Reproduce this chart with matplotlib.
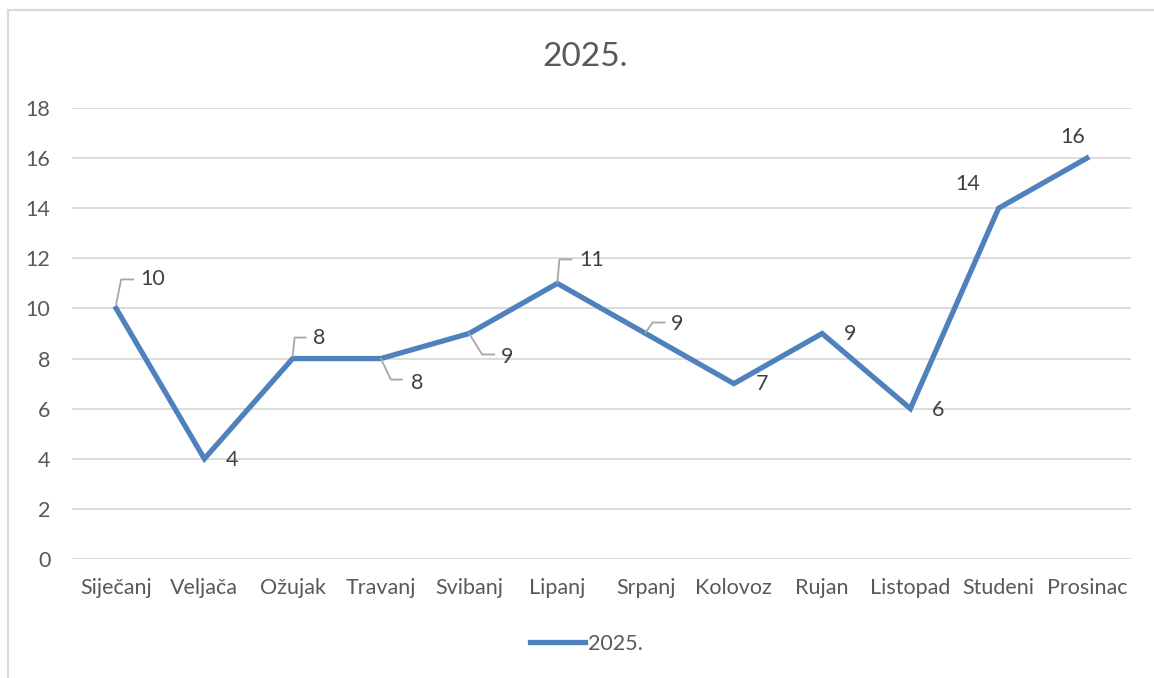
import matplotlib
matplotlib.use("Agg")
import matplotlib.pyplot as plt
from matplotlib.lines import Line2D
from matplotlib.transforms import IdentityTransform

months = ["Siječanj", "Veljača", "Ožujak", "Travanj", "Svibanj", "Lipanj",
          "Srpanj", "Kolovoz", "Rujan", "Listopad", "Studeni", "Prosinac"]
values = [10, 4, 8, 8, 9, 11, 9, 7, 9, 6, 14, 16]
series_name = "2025."
title = "2025."
yticks = [0, 2, 4, 6, 8, 10, 12, 14, 16, 18]

# label offsets in pixels (dx, dy; y up) and leader-line paths relative to the point
label_offsets = [(37, 29), (28, -1), (27, 21), (36, -24), (38, -23), (34, 23),
                 (32, 10), (28, 0), (28, 0), (28, -1), (-31, 24), (-14, 21)]
leaders = {
    0: [(0, 4), (5, 29), (17, 29)],
    2: [(0, 2), (2, 21), (13, 21)],
    3: [(0, 0), (10, -21), (21, -21)],
    4: [(0, 0), (13, -21), (25, -21)],
    5: [(0, 1), (2, 24), (14, 24)],
    6: [(0, 1), (7, 11), (19, 11)],
}

FONT = ["Lato", "DejaVu Sans"]
plt.rcParams["font.family"] = FONT
W, H = 1154, 678
FS = 15.5
fig = plt.figure(figsize=(W / 100, H / 100), dpi=100)
ax = fig.add_axes([72 / W, 1 - 559 / H, (1131 - 72) / W, (559 - 108) / H])

color = "#4F81BD"
x = list(range(len(months)))
ax.plot(x, values, color=color, lw=3.8, solid_joinstyle="miter", label=series_name, zorder=3)

ax.set_xlim(-0.5, len(months) - 0.5)
ax.set_ylim(0, 18)
ax.set_yticks(yticks)
ax.set_xticks(x)
ax.set_xticklabels(months)
ax.grid(axis="y", color="#D9D9D9", lw=1.3)
ax.set_axisbelow(True)
for s in ax.spines.values():
    s.set_visible(False)
ax.tick_params(length=0, colors="#595959", labelsize=FS)
ax.tick_params(axis="y", pad=15.5)
ax.tick_params(axis="x", pad=14)

fig.canvas.draw()
for i, v in enumerate(values):
    px, py = ax.transData.transform((i, v))
    dx, dy = label_offsets[i]
    ax.text(px + dx, py + dy, str(v), transform=IdentityTransform(),
            ha="center", va="center", fontsize=FS, color="#404040", zorder=5)
    if i in leaders:
        pts = leaders[i]
        fig.add_artist(Line2D([px + a for a, b in pts], [py + b for a, b in pts],
                              transform=IdentityTransform(), color="#A6A6A6", lw=1.3, zorder=4))

fig.text(585 / W, 1 - 57 / H, title, ha="center", va="center", fontsize=24, color="#595959")

leg = fig.legend(loc="center", bbox_to_anchor=(586 / W, 1 - 644 / H), frameon=False,
                 fontsize=FS, handlelength=2.6, handletextpad=0.1, labelcolor="#595959")

# chart border (cropped on the right and bottom)
fig.add_artist(Line2D([8 / W, 8 / W], [0, 1 - 10 / H], color="#D9D9D9", lw=1.5))
fig.add_artist(Line2D([8 / W, 1], [1 - 10 / H, 1 - 10 / H], color="#D9D9D9", lw=1.5))

fig.savefig("out.png", dpi=100)
